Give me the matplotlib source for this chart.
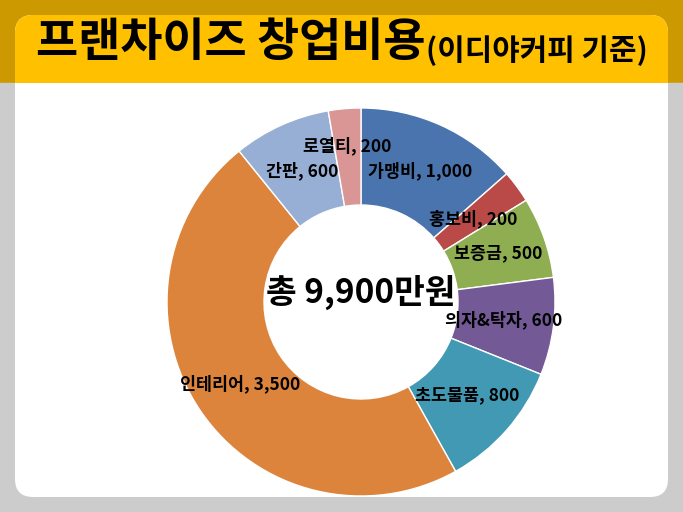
import numpy as np
import matplotlib
matplotlib.use("Agg")
import matplotlib.pyplot as plt
from matplotlib.patches import FancyBboxPatch, Rectangle

plt.rcParams["font.family"] = ["Noto Sans CJK KR", "DejaVu Sans"]

# data (만원)
categories = ["가맹비", "홍보비", "보증금", "의자&탁자", "초도물품", "인테리어", "간판", "로열티"]
values = [1000, 200, 500, 600, 800, 3500, 600, 200]
colors = ["#4A74AD", "#B94A48", "#8FAE52", "#735A96", "#4299B4", "#DD843C", "#97AFD4", "#D99694"]
title_main = "프랜차이즈 창업비용"
title_sub = "(이디야커피 기준)"
center_text = "총 9,900만원"

W, H = 683, 512
fig = plt.figure(figsize=(W / 100, H / 100), dpi=100)

# background in pixel coords
bg = fig.add_axes([0, 0, 1, 1])
bg.set_xlim(0, W)
bg.set_ylim(H, 0)
bg.axis("off")
bg.add_patch(Rectangle((0, 0), W, 83, color="#CC9A00", zorder=0))
bg.add_patch(Rectangle((0, 83), W, H - 83, color="#CCCCCC", zorder=0))
bg.add_patch(FancyBboxPatch((15, 15), 653, 482, boxstyle="round,pad=0,rounding_size=18",
                            fc="white", ec="none", zorder=1))
bg.add_patch(FancyBboxPatch((15, 15), 653, 100, boxstyle="round,pad=0,rounding_size=18",
                            fc="#FFC000", ec="none", zorder=2))
bg.add_patch(Rectangle((15, 83), 653, 40, fc="white", ec="none", zorder=3))

t1 = bg.text(36, 43, title_main, fontsize=33, fontweight="bold", ha="left", va="center", zorder=5)
fig.canvas.draw()
bb = t1.get_window_extent()
bg.text(bb.x1 / fig.dpi * 100 + 1, 51, title_sub, fontsize=21.5, fontweight="bold",
        ha="left", va="center", zorder=5)

# donut
cx, cy, r = 361, 302, 194
ax = fig.add_axes([(cx - r) / W, (H - cy - r) / H, 2 * r / W, 2 * r / H])
wedges, _ = ax.pie(values, colors=colors, startangle=90, counterclock=False, radius=1,
                   wedgeprops=dict(width=0.5, edgecolor="white", linewidth=1))
ax.set_xlim(-1, 1)
ax.set_ylim(-1, 1)
ax.set_aspect("equal")

label_r = [0.74, 0.72, 0.75, 0.74, 0.73, 0.75, 0.74, 0.81]
for w, cat, v, lr in zip(wedges, categories, values, label_r):
    mid = np.deg2rad((w.theta1 + w.theta2) / 2)
    if cat == "로열티":
        mid = np.deg2rad(95)
    ax.text(lr * np.cos(mid), lr * np.sin(mid), f"{cat}, {v:,}", ha="center", va="center",
            fontsize=12.5, fontweight="bold", color="black")

ax.text(0, 0.05, center_text, ha="center", va="center", fontsize=24, fontweight="bold")

fig.savefig("out.png", dpi=100)
